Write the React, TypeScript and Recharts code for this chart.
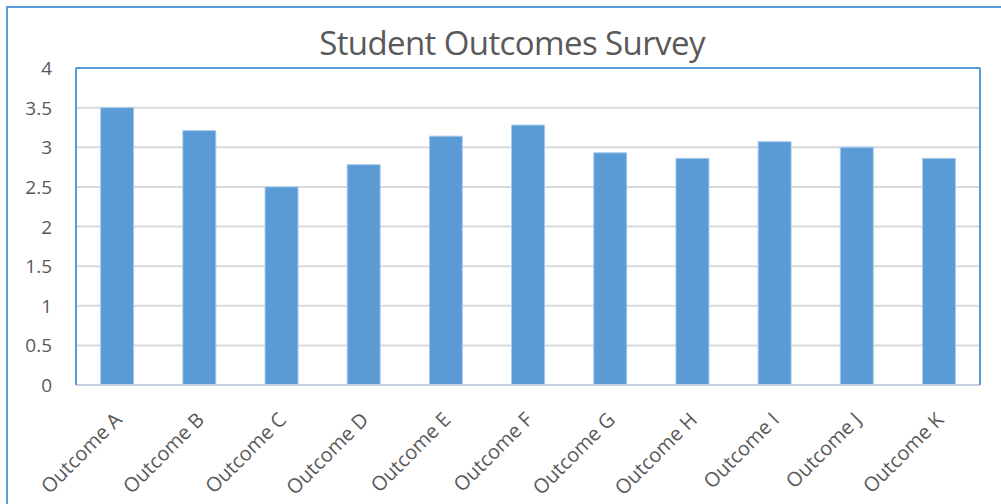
import React from "react";
import { BarChart, Bar, XAxis, YAxis, CartesianGrid } from "recharts";

const categories = [
  "Outcome A", "Outcome B", "Outcome C", "Outcome D", "Outcome E", "Outcome F",
  "Outcome G", "Outcome H", "Outcome I", "Outcome J", "Outcome K",
];
const scores = [3.5, 3.21, 2.5, 2.78, 3.14, 3.28, 2.93, 2.86, 3.07, 3.0, 2.86];
const yTicks = [0, 0.5, 1, 1.5, 2, 2.5, 3, 3.5, 4];
const gridValues = [0.5, 1, 1.5, 2, 2.5, 3, 3.5];
const title = "Student Outcomes Survey";

const data = categories.map((name, i) => ({ name, value: scores[i] }));

const FONT = "'Open Sans', sans-serif";
const TEXT = "#595959";
const BLUE = "#5B9BD5";

const XTick = (props: any) => {
  const { x, y, payload } = props;
  return (
    <text
      transform={`translate(${x + 6},${y + 28}) rotate(-45)`}
      textAnchor="end"
      fill={TEXT}
      fontSize={20}
      fontFamily={FONT}
    >
      {payload.value}
    </text>
  );
};

const YTick = (props: any) => {
  const { x, y, payload } = props;
  return (
    <text x={x} y={y + 7} textAnchor="end" fill={TEXT} fontSize={19} fontFamily={FONT}>
      {String(payload.value)}
    </text>
  );
};

export default function App() {
  return (
    <div style={{ position: "absolute", left: 0, top: 0, width: 1001, height: 504, overflow: "hidden", background: "#fff" }}>
      <div style={{ position: "absolute", left: 6, top: 6, width: 1200, height: 700, border: `2px solid ${BLUE}` }} />
      <svg style={{ position: "absolute", left: 0, top: 0 }} width={1001} height={80}>
        <text
          x={512}
          y={55}
          textAnchor="middle"
          fontFamily={FONT}
          fontSize={33}
          letterSpacing={-0.6}
          fill={TEXT}
        >
          {title}
        </text>
      </svg>
      <div style={{ position: "absolute", left: 0, top: 0 }}>
        <BarChart
          width={1001}
          height={504}
          data={data}
          margin={{ top: 67, right: 20, bottom: 0, left: 0 }}
          barCategoryGap="30%"
        >
          <CartesianGrid vertical={false} stroke="#D9D9D9" strokeWidth={2} horizontalValues={gridValues} />
          <XAxis
            dataKey="name"
            interval={0}
            height={119}
            tickLine={false}
            axisLine={{ stroke: "#C6D0DE", strokeWidth: 2 }}
            tick={<XTick />}
          />
          <XAxis
            xAxisId="top"
            dataKey="name"
            orientation="top"
            height={1}
            tick={false}
            tickLine={false}
            axisLine={{ stroke: BLUE, strokeWidth: 2 }}
          />
          <YAxis
            domain={[0, 4]}
            ticks={yTicks}
            width={76}
            tickLine={false}
            tickSize={6}
            tickMargin={18}
            axisLine={{ stroke: BLUE, strokeWidth: 2 }}
            tick={<YTick />}
          />
          <YAxis
            yAxisId="right"
            orientation="right"
            width={1}
            domain={[0, 4]}
            tick={false}
            tickLine={false}
            axisLine={{ stroke: BLUE, strokeWidth: 2 }}
          />
          <Bar dataKey="value" fill={BLUE} stroke="#A8CBEE" strokeWidth={1} isAnimationActive={false} />
        </BarChart>
      </div>
    </div>
  );
}
